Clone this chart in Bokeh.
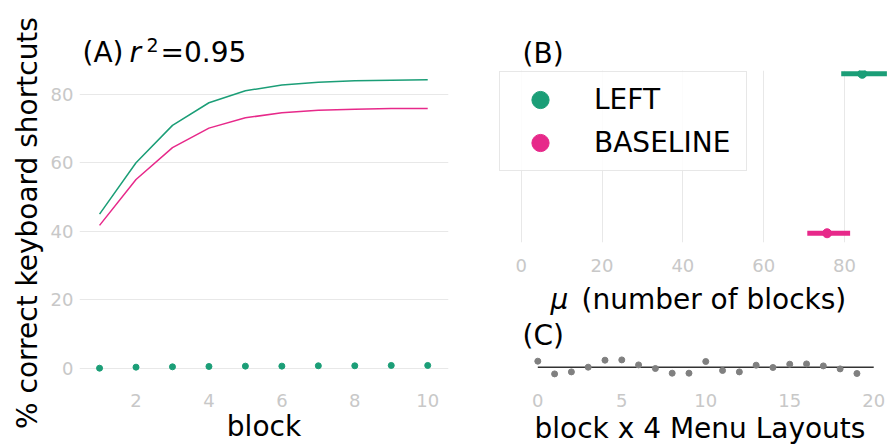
import math
from bokeh.plotting import figure
from bokeh.layouts import row, column
from bokeh.models import Label, Range1d, FixedTicker, Legend, LegendItem, Title
from bokeh.embed import file_html
from bokeh.resources import INLINE

# ---------------- data ----------------
blocks = [1, 2, 3, 4, 5, 6, 7, 8, 9, 10]
left_curve = [45.0, 60.0, 70.9, 77.5, 81.0, 82.7, 83.5, 83.9, 84.1, 84.2]
baseline_curve = [41.7, 55.1, 64.4, 70.1, 73.1, 74.6, 75.3, 75.6, 75.8, 75.8]
left_obs = [0.0, 0.3, 0.4, 0.5, 0.6, 0.6, 0.7, 0.7, 0.8, 0.8]

groups = ["LEFT", "BASELINE"]
mu_mean = [84.4, 75.7]
mu_low = [79.2, 70.8]
mu_high = [90.5, 81.4]

resid_x = list(range(20))
resid_y = [0.60, -0.67, -0.47, 0.00, 0.70, 0.73, 0.23, -0.13, -0.60, -0.60,
           0.57, -0.33, -0.47, 0.20, -0.03, 0.30, 0.33, 0.13, -0.17, -0.63]
resid_line_x = [0, 20]
resid_mean = [0.0, 0.0]

a_xticks = [2, 4, 6, 8, 10]
a_yticks = [0, 20, 40, 60, 80]
b_xticks = [0, 20, 40, 60, 80]
c_xticks = [0, 5, 10, 15, 20]

# ---------------- style ----------------
FONT = "DejaVu Sans"
GREEN = "#1b9e77"
PINK = "#e7298a"
TICK_COLOR = "#c8c8c8"
GRID_COLOR = "#e8e8e8"
BIG = "28px"
SMALL = "18px"
SHIFT = 6   # compensation for label baseline placement


def clean(p):
    p.outline_line_color = None
    p.background_fill_color = "white"
    p.border_fill_color = "white"
    for ax in p.axis:
        ax.axis_line_color = None
        ax.major_tick_line_color = None
        ax.minor_tick_line_color = None
        ax.major_tick_out = 0
        ax.major_tick_in = 0
        ax.major_label_text_font = FONT
        ax.major_label_text_font_size = SMALL
        ax.major_label_text_color = TICK_COLOR
        ax.axis_label_text_font = FONT
        ax.axis_label_text_font_size = BIG
        ax.axis_label_text_font_style = "normal"
        ax.axis_label_text_color = "black"


def text_fig(width, height, bl, br):
    t = figure(width=width, height=height, output_backend="svg", toolbar_location=None,
               x_axis_location=None, y_axis_location=None,
               x_range=Range1d(0, 1), y_range=Range1d(0, 1),
               min_border_left=bl, min_border_right=br, min_border_top=0, min_border_bottom=0)
    t.outline_line_color = None
    t.grid.visible = False
    return t


def add_text(p, fl, fb, px, py, text, size=BIG, style="normal"):
    p.add_layout(Label(x=px - fl, y=fb - py + SHIFT, x_units="screen", y_units="screen",
                       text=text, text_font=FONT, text_font_size=size,
                       text_font_style=style, text_color="black",
                       text_baseline="alphabetic", text_align="left"))


# ---------------- y label strip ----------------
YW = 47
ty = text_fig(YW, 445, 0, 0)
ty.add_layout(Label(x=27, y=445 - 222.5, x_units="screen", y_units="screen",
                    text="% correct keyboard shortcuts", text_font=FONT, text_font_size=BIG,
                    text_color="black", angle=math.pi / 2,
                    text_baseline="alphabetic", text_align="center"))

# ---------------- panel A ----------------
AW = 470 - YW
A_TOP = 70
ta = text_fig(AW, A_TOP, 77 - YW, 22)
add_text(ta, 77, A_TOP, 80, 58, "(A)")
add_text(ta, 77, A_TOP, 127, 58, "r", style="italic")
add_text(ta, 77, A_TOP, 144, 50, "2", size="19px")
add_text(ta, 77, A_TOP, 158, 58, "=0.95")

pa = figure(width=AW, height=445 - A_TOP, output_backend="svg", toolbar_location=None,
            x_range=Range1d(0.45, 10.57), y_range=Range1d(-4.18, 86.92),
            min_border_left=77 - YW, min_border_right=22, min_border_top=0, min_border_bottom=63)
pa.xaxis.ticker = FixedTicker(ticks=a_xticks)
pa.yaxis.ticker = FixedTicker(ticks=a_yticks)
pa.xaxis.axis_label = "block"
clean(pa)
pa.xaxis.major_label_standoff = 11
pa.xaxis.axis_label_standoff = 0
pa.yaxis.major_label_standoff = 6
pa.xgrid.visible = False
pa.ygrid.grid_line_color = GRID_COLOR
pa.ygrid.grid_line_width = 1

pa.line(blocks, left_curve, line_color=GREEN, line_width=1.5)
pa.line(blocks, baseline_curve, line_color=PINK, line_width=1.5)
pa.scatter(blocks, left_obs, size=6, fill_color=GREEN, line_color=GREEN)

# ---------------- panel B ----------------
RB_L, RB_R = 28, 5          # right column borders -> frame x 498..887
B_TOP, B_END, M_END = 70, 279, 352
tb = text_fig(422, B_TOP, RB_L, RB_R)
add_text(tb, 498, B_TOP, 522, 59, "(B)")

pb = figure(width=422, height=B_END - B_TOP, output_backend="svg", toolbar_location=None,
            x_range=Range1d(-5.62, 90.65), y_range=Range1d(-0.058, 1.0207),
            y_axis_location=None,
            min_border_left=RB_L, min_border_right=RB_R, min_border_top=0,
            min_border_bottom=B_END - 242)
pb.xaxis.ticker = FixedTicker(ticks=b_xticks)
clean(pb)
pb.xaxis.major_label_standoff = 16
pb.ygrid.visible = False
pb.xgrid.grid_line_color = GRID_COLOR
pb.xgrid.grid_line_width = 1

ypos = [len(groups) - 1 - i for i in range(len(groups))]
colors = [GREEN, PINK]
items = []
for i, g in enumerate(groups):
    pb.segment(x0=[mu_low[i]], y0=[ypos[i]], x1=[mu_high[i]], y1=[ypos[i]],
               line_color=colors[i], line_width=5)
    r = pb.scatter([mu_mean[i]], [ypos[i]], size=9, fill_color=colors[i], line_color=colors[i])
    items.append(LegendItem(label=g, renderers=[r]))

leg = Legend(items=items, location="top_left", margin=1, padding=6, spacing=0,
             glyph_height=43, glyph_width=68, label_standoff=20, label_height=43,
             label_width=146,
             label_text_font=FONT, label_text_font_size=BIG, label_text_baseline="middle",
             label_text_color="black",
             border_line_color="#d0d0d0", border_line_width=1,
             background_fill_color="white", background_fill_alpha=0.85)
pb.add_layout(leg, "center")

# text strip between B and C
tm = text_fig(422, M_END - B_END, RB_L, RB_R)
add_text(tm, 498, M_END, 550, 305, "\u03bc", style="italic")
add_text(tm, 498, M_END, 581, 305, "(number of blocks)")
add_text(tm, 498, M_END, 522, 341, "(C)")

# ---------------- panel C ----------------
pc = figure(width=422, height=445 - M_END, output_backend="svg", toolbar_location=None,
            x_range=Range1d(-2.34, 20.82), y_range=Range1d(-1.53, 1.47),
            y_axis_location=None,
            min_border_left=RB_L, min_border_right=RB_R, min_border_top=0, min_border_bottom=63)
pc.xaxis.ticker = FixedTicker(ticks=c_xticks)
clean(pc)
pc.xaxis.major_label_standoff = 11
pc.xgrid.visible = False
pc.ygrid.visible = False
pc.add_layout(Title(text="block x 4 Menu Layouts", align="left", offset=36, standoff=0,
                    text_font=FONT, text_font_size=BIG, text_font_style="normal",
                    text_color="black"), "below")

pc.line(resid_line_x, resid_mean, line_color="#333333", line_width=1.5)
pc.scatter(resid_x, resid_y, size=6, fill_color="#808080", line_color="#808080")

layout = row(ty, column(ta, pa), column(tb, pb, tm, pc))
open("out.html", "w").write(file_html(layout, INLINE))
